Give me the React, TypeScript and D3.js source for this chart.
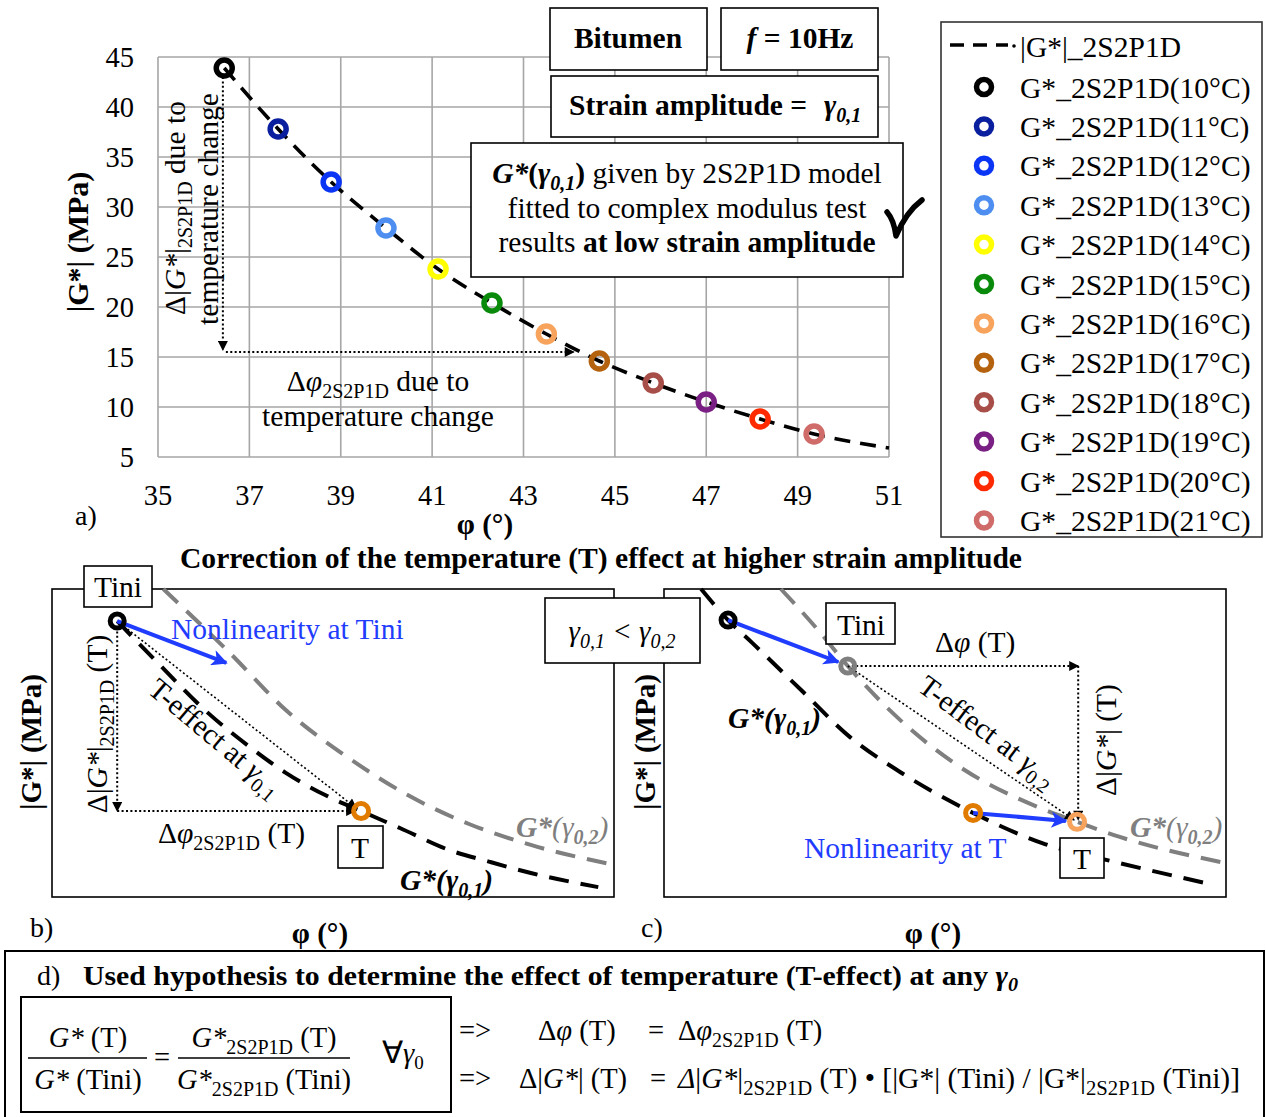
import React from "react";
import * as d3 from "d3";

const SERIF = "'Liberation Serif','Times New Roman',serif";

// ---------- Panel a data ----------
const temperatures = [10, 11, 12, 13, 14, 15, 16, 17, 18, 19, 20, 21];
const phaseDeg = [36.45, 37.63, 38.79, 39.99, 41.13, 42.31, 43.5, 44.66, 45.84, 47.0, 48.18, 49.36];
const modulusMPa = [43.9, 37.8, 32.5, 27.9, 23.8, 20.4, 17.3, 14.6, 12.4, 10.5, 8.8, 7.3];
const pointColors = [
  "#000000", "#0a1f9e", "#0a35f5", "#4d8ef0", "#ffff00", "#0a8a0a",
  "#f8a35c", "#b5620f", "#a84e48", "#7a1f84", "#ff2a00", "#cf6b68",
];
const modelEndPhase = [51];
const modelEndModulus = [5.9];
const xTicks = [35, 37, 39, 41, 43, 45, 47, 49, 51];
const yTicks = [5, 10, 15, 20, 25, 30, 35, 40, 45];
const deltaArrowPhase = [36.42, 44.1];
const deltaArrowModulus = [43.0, 15.5];

// ---------- Panel b schematic data (arbitrary units 0-100) ----------
const bBlackX = [11.6, 19.2, 27.8, 35.2, 41.6, 48.6, 55.0, 61.9, 70.6, 77.9, 85.2, 97.2];
const bBlackY = [89.6, 75.3, 59.7, 48.7, 40.3, 33.1, 27.9, 22.4, 15.3, 11.4, 7.8, 3.2];
const bGrayX = [19.8, 31.5, 41.6, 52.5, 63.3, 74.2, 85.2, 99.3];
const bGrayY = [100, 79.5, 60.7, 45.5, 33.1, 23.7, 16.9, 10.7];
const bTini = [11.6, 89.6];
const bT = [55.0, 27.9];
const bNonlinTip = [31.0, 76.0];

// ---------- Panel c schematic data ----------
const cBlackX = [6.6, 11.4, 15.7, 24.4, 33.1, 42.0, 55.0, 67.3, 81.1, 97.9];
const cBlackY = [100, 89.9, 82.5, 67.2, 51.9, 40.6, 27.3, 17.5, 11.0, 3.9];
const cGrayX = [20.8, 27.4, 32.7, 42.0, 52.1, 66.5, 73.5, 81.1, 100];
const cGrayY = [100, 86.7, 75.0, 57.5, 42.9, 29.2, 24.4, 19.5, 11.0];
const cTiniLow = [11.4, 89.9];
const cTiniHigh = [32.7, 75.0];
const cTLow = [55.0, 27.3];
const cTHigh = [73.5, 24.4];
const cNonlinTip1 = [31.0, 76.3];
const cNonlinTip2 = [71.5, 24.7];
const cCorner = [73.7, 75.0];

const BLUE = "#1f3cff";
const GRAY = "#7f7f7f";
const ORANGE = "#e07b00";
const LORANGE = "#f7a35c";

const FS = 29.5; // main text size
const SUB = 20; // subscript size

function Sub({ children, size = SUB, shift = 7 }: { children: React.ReactNode; size?: number; shift?: number }) {
  return (
    <tspan fontSize={size} dy={shift}>
      {children}
    </tspan>
  );
}

export default function App() {
  const x = d3.scaleLinear().domain([35, 51]).range([158, 889]);
  const y = d3.scaleLinear().domain([5, 45]).range([457, 57]);
  const modelPts: [number, number][] = phaseDeg
    .map((p, i) => [p, modulusMPa[i]] as [number, number])
    .concat(modelEndPhase.map((p, i) => [p, modelEndModulus[i]] as [number, number]));
  const modelLine = d3
    .line<[number, number]>()
    .x((d) => x(d[0]))
    .y((d) => y(d[1]))
    .curve(d3.curveMonotoneX);

  const bx = d3.scaleLinear().domain([0, 100]).range([52, 614]);
  const cx = d3.scaleLinear().domain([0, 100]).range([664, 1226]);
  const sy = d3.scaleLinear().domain([0, 100]).range([897, 589]);
  const mkLine = (sx: d3.ScaleLinear<number, number>) =>
    d3
      .line<[number, number]>()
      .x((d) => sx(d[0]))
      .y((d) => sy(d[1]))
      .curve(d3.curveMonotoneX);
  const zip = (a: number[], b: number[]) => a.map((v, i) => [v, b[i]] as [number, number]);
  const bLine = mkLine(bx);
  const cLine = mkLine(cx);

  const dotted = { stroke: "#000", strokeWidth: 2, strokeDasharray: "2 2.4", fill: "none" };
  const legendRowY = (i: number) => 87 + i * 39.4;

  return (
    <svg
      width={1266}
      height={1117}
      style={{ position: "absolute", left: 0, top: 0, display: "block", background: "#fff" }}
      fontFamily={SERIF}
    >
      <defs>
        <marker id="blueHead" viewBox="0 0 10 10" refX="9" refY="5" markerWidth="22" markerHeight="16" markerUnits="userSpaceOnUse" orient="auto">
          <path d="M0,0 L10,5 L0,10 L2.5,5 z" fill={BLUE} />
        </marker>
        <marker id="blackHead" viewBox="0 0 10 10" refX="9" refY="5" markerWidth="13" markerHeight="10" markerUnits="userSpaceOnUse" orient="auto">
          <path d="M0,0 L10,5 L0,10 z" fill="#000" />
        </marker>
      </defs>
      <rect x={0} y={0} width={1266} height={1117} fill="#fff" />

      {/* ===== Panel a ===== */}
      <g>
        {xTicks.map((t) => (
          <line key={"gx" + t} x1={x(t)} x2={x(t)} y1={y(45)} y2={y(5)} stroke="#a6a6a6" strokeWidth={1.6} />
        ))}
        {yTicks.map((t) => (
          <line key={"gy" + t} x1={x(35)} x2={x(51)} y1={y(t)} y2={y(t)} stroke="#a6a6a6" strokeWidth={1.6} />
        ))}
        {xTicks.map((t) => (
          <text key={"tx" + t} x={x(t)} y={505} fontSize={28.5} textAnchor="middle">
            {t}
          </text>
        ))}
        {yTicks.map((t) => (
          <text key={"ty" + t} x={134} y={y(t) + 10} fontSize={28.5} textAnchor="end">
            {t}
          </text>
        ))}
        <text transform="translate(88,242) rotate(-90)" fontSize={30} fontWeight="bold" textAnchor="middle">
          |G*| (MPa)
        </text>
        <text x={485} y={534} fontSize={29} fontWeight="bold" textAnchor="middle">
          φ (°)
        </text>
        <text x={75} y={525} fontSize={28}>
          a)
        </text>

        {/* annotation arrows */}
        <line x1={x(deltaArrowPhase[0])} x2={x(deltaArrowPhase[0])} y1={y(deltaArrowModulus[0])} y2={y(deltaArrowModulus[1]) - 2} style={dotted} markerEnd="url(#blackHead)" />
        <line x1={x(deltaArrowPhase[0]) + 3} x2={x(deltaArrowPhase[1])} y1={y(deltaArrowModulus[1])} y2={y(deltaArrowModulus[1])} style={dotted} markerEnd="url(#blackHead)" />

        <path d={modelLine(modelPts) || ""} fill="none" stroke="#000" strokeWidth={3.6} strokeDasharray="16 10" />
        {phaseDeg.map((p, i) => (
          <circle key={"pt" + temperatures[i]} cx={x(p)} cy={y(modulusMPa[i])} r={8} fill="none" stroke={pointColors[i]} strokeWidth={5.5} />
        ))}

        <g transform="translate(175,208) rotate(-90)">
          <text textAnchor="middle" dy="0.35em" fontSize={FS}>
            Δ|<tspan fontStyle="italic">G*</tspan>|<Sub>2S2P1D</Sub>
            <tspan dy={-7}> due to</tspan>
          </text>
        </g>
        <g transform="translate(208,209) rotate(-90)">
          <text textAnchor="middle" dy="0.35em" fontSize={FS}>
            temperature change
          </text>
        </g>
        <text x={378} y={391} fontSize={FS} textAnchor="middle">
          Δ<tspan fontStyle="italic">φ</tspan>
          <Sub>2S2P1D</Sub>
          <tspan dy={-7}> due to</tspan>
        </text>
        <text x={378} y={426} fontSize={FS} textAnchor="middle">
          temperature change
        </text>

        {/* info boxes */}
        <rect x={550} y={8} width={157} height={62} fill="#fff" stroke="#000" strokeWidth={1.6} />
        <text x={628} y={48} fontSize={29.5} fontWeight="bold" textAnchor="middle">
          Bitumen
        </text>
        <rect x={721} y={8} width={157} height={62} fill="#fff" stroke="#000" strokeWidth={1.6} />
        <text x={800} y={48} fontSize={29.5} fontWeight="bold" textAnchor="middle">
          <tspan fontStyle="italic">f</tspan> = 10Hz
        </text>
        <rect x={551} y={76} width={327} height={61} fill="#fff" stroke="#000" strokeWidth={1.6} />
        <text x={569} y={115} fontSize={29.5} fontWeight="bold">
          Strain amplitude =
        </text>
        <text x={824} y={115} fontSize={29.5} fontWeight="bold" fontStyle="italic">
          γ<tspan fontSize={20} dy={7}>0,1</tspan>
        </text>
        <rect x={471} y={143} width={432} height={134} fill="#fff" stroke="#000" strokeWidth={1.6} />
        <text x={687} y={183} fontSize={FS} textAnchor="middle">
          <tspan fontWeight="bold" fontStyle="italic">G*</tspan>
          <tspan fontWeight="bold">(</tspan>
          <tspan fontStyle="italic" fontWeight="bold">γ</tspan>
          <tspan fontStyle="italic" fontWeight="bold" fontSize={SUB} dy={7}>0,1</tspan>
          <tspan fontWeight="bold" dy={-7}>)</tspan> given by 2S2P1D model
        </text>
        <text x={687} y={218} fontSize={FS} textAnchor="middle">
          fitted to complex modulus test
        </text>
        <text x={687} y={252} fontSize={FS} textAnchor="middle">
          results <tspan fontWeight="bold">at low strain amplitude</tspan>
        </text>
        <path d="M887,212 Q894,220 896,236 Q906,212 922,200" fill="none" stroke="#000" strokeWidth={5.5} strokeLinecap="round" strokeLinejoin="round" />

        {/* legend */}
        <rect x={941} y={22} width={321} height={515} fill="#fff" stroke="#333" strokeWidth={1.6} />
        <line x1={950} x2={1008} y1={45} y2={45} stroke="#000" strokeWidth={3.6} strokeDasharray="14 9" />
        <circle cx={1014} cy={46} r={1.8} fill="#000" />
        <text x={1020} y={57} fontSize={FS}>
          |G*|_2S2P1D
        </text>
        {temperatures.map((t, i) => (
          <g key={"lg" + t}>
            <circle cx={984} cy={legendRowY(i)} r={7.5} fill="none" stroke={pointColors[i]} strokeWidth={5.5} />
            <text x={1020} y={legendRowY(i) + 10.5} fontSize={29.6}>
              G*_2S2P1D({t}°C)
            </text>
          </g>
        ))}
      </g>

      {/* ===== Title for b/c ===== */}
      <text x={601} y={568} fontSize={28.5} fontWeight="bold" textAnchor="middle" textLength={842} lengthAdjust="spacingAndGlyphs">
        Correction of the temperature (T) effect at higher strain amplitude
      </text>

      {/* ===== Panel b ===== */}
      <g>
        <rect x={52} y={589} width={562} height={308} fill="none" stroke="#000" strokeWidth={1.6} />
        <path d={bLine(zip(bGrayX, bGrayY)) || ""} fill="none" stroke={GRAY} strokeWidth={4} strokeDasharray="20 12" />
        <path d={bLine(zip(bBlackX, bBlackY)) || ""} fill="none" stroke="#000" strokeWidth={4} strokeDasharray="20 12" />
        <line x1={bx(bTini[0])} x2={bx(bTini[0])} y1={sy(bTini[1]) + 6} y2={sy(bT[1])} style={dotted} markerEnd="url(#blackHead)" />
        <line x1={bx(bTini[0])} x2={bx(bT[0]) - 6} y1={sy(bT[1])} y2={sy(bT[1])} style={dotted} markerEnd="url(#blackHead)" />
        <line x1={bx(bTini[0])} x2={bx(bT[0]) - 5} y1={sy(bTini[1])} y2={sy(bT[1]) - 3} style={{ ...dotted, strokeWidth: 1.6 }} markerEnd="url(#blackHead)" />
        <line x1={bx(bTini[0])} x2={bx(bNonlinTip[0])} y1={sy(bTini[1])} y2={sy(bNonlinTip[1])} stroke={BLUE} strokeWidth={4} markerEnd="url(#blueHead)" />
        <circle cx={bx(bTini[0])} cy={sy(bTini[1])} r={7} fill="none" stroke="#000" strokeWidth={5} />
        <circle cx={bx(bT[0])} cy={sy(bT[1])} r={7.5} fill="none" stroke={ORANGE} strokeWidth={5} />

        <rect x={84} y={566} width={68} height={41} fill="#fff" stroke="#000" strokeWidth={1.6} />
        <text x={118} y={597} fontSize={FS} textAnchor="middle">
          Tini
        </text>
        <rect x={338} y={826} width={45} height={42} fill="#fff" stroke="#000" strokeWidth={1.6} />
        <text x={360} y={858} fontSize={FS} textAnchor="middle">
          T
        </text>
        <text x={171} y={639} fontSize={FS} fill={BLUE}>
          Nonlinearity at Tini
        </text>
        <g transform="translate(97,724) rotate(-90)">
          <text textAnchor="middle" dy="0.35em" fontSize={FS}>
            Δ|<tspan fontStyle="italic">G*</tspan>|<Sub>2S2P1D</Sub>
            <tspan dy={-7}> (T)</tspan>
          </text>
        </g>
        <text x={158} y={843} fontSize={FS}>
          Δ<tspan fontStyle="italic">φ</tspan>
          <Sub>2S2P1D</Sub>
          <tspan dy={-7}> (T)</tspan>
        </text>
        <g transform="translate(216,737) rotate(40)">
          <text textAnchor="middle" dy="0.35em" fontSize={FS}>
            T-effect at <tspan fontStyle="italic">γ</tspan>
            <Sub>0,1</Sub>
          </text>
        </g>
        <text x={516} y={837} fontSize={FS} fill={GRAY} fontWeight="bold" fontStyle="italic">
          G*<tspan fontWeight="normal">(γ</tspan>
          <Sub>0,2</Sub>
          <tspan fontWeight="normal" dy={-7}>)</tspan>
        </text>
        <text x={400} y={890} fontSize={FS} fontWeight="bold" fontStyle="italic">
          G*(γ<Sub>0,1</Sub>
          <tspan dy={-7}>)</tspan>
        </text>
        <text transform="translate(41,742) rotate(-90)" fontSize={29} fontWeight="bold" textAnchor="middle">
          |G*| (MPa)
        </text>
        <text x={320} y={943} fontSize={29} fontWeight="bold" textAnchor="middle">
          φ (°)
        </text>
        <text x={30} y={937} fontSize={28}>
          b)
        </text>
      </g>

      {/* ===== Panel c ===== */}
      <g>
        <rect x={664} y={589} width={562} height={308} fill="none" stroke="#000" strokeWidth={1.6} />
        <path d={cLine(zip(cGrayX, cGrayY)) || ""} fill="none" stroke={GRAY} strokeWidth={4} strokeDasharray="20 12" />
        <path d={cLine(zip(cBlackX, cBlackY)) || ""} fill="none" stroke="#000" strokeWidth={4} strokeDasharray="20 12" />
        <line x1={cx(cTiniHigh[0]) + 4} x2={cx(cCorner[0])} y1={sy(cTiniHigh[1])} y2={sy(cCorner[1])} style={dotted} markerEnd="url(#blackHead)" />
        <line x1={cx(cCorner[0])} x2={cx(cCorner[0])} y1={sy(cCorner[1])} y2={sy(cTHigh[1]) - 2} style={dotted} markerEnd="url(#blackHead)" />
        <line x1={cx(cTiniHigh[0])} x2={cx(cTHigh[0]) - 3} y1={sy(cTiniHigh[1])} y2={sy(cTHigh[1]) - 2} style={{ ...dotted, strokeWidth: 1.6 }} markerEnd="url(#blackHead)" />
        <line x1={cx(cTiniLow[0])} x2={cx(cNonlinTip1[0])} y1={sy(cTiniLow[1])} y2={sy(cNonlinTip1[1])} stroke={BLUE} strokeWidth={4} markerEnd="url(#blueHead)" />
        <line x1={cx(cTLow[0])} x2={cx(cNonlinTip2[0])} y1={sy(cTLow[1])} y2={sy(cNonlinTip2[1])} stroke={BLUE} strokeWidth={4} markerEnd="url(#blueHead)" />
        <circle cx={cx(cTiniLow[0])} cy={sy(cTiniLow[1])} r={7} fill="none" stroke="#000" strokeWidth={5} />
        <circle cx={cx(cTiniHigh[0])} cy={sy(cTiniHigh[1])} r={7} fill="none" stroke={GRAY} strokeWidth={5} />
        <circle cx={cx(cTLow[0])} cy={sy(cTLow[1])} r={7.5} fill="none" stroke={ORANGE} strokeWidth={5} />
        <circle cx={cx(cTHigh[0])} cy={sy(cTHigh[1])} r={7.5} fill="none" stroke={LORANGE} strokeWidth={5} />

        <rect x={826} y={603} width={69} height={41} fill="#fff" stroke="#000" strokeWidth={1.6} />
        <text x={861} y={635} fontSize={FS} textAnchor="middle">
          Tini
        </text>
        <rect x={1060} y={838} width={44} height={40} fill="#fff" stroke="#000" strokeWidth={1.6} />
        <text x={1082} y={869} fontSize={FS} textAnchor="middle">
          T
        </text>
        <text x={935} y={652} fontSize={FS}>
          Δ<tspan fontStyle="italic">φ</tspan> (T)
        </text>
        <g transform="translate(1106,740) rotate(-90)">
          <text textAnchor="middle" dy="0.35em" fontSize={FS}>
            Δ|<tspan fontStyle="italic">G*</tspan>| (T)
          </text>
        </g>
        <g transform="translate(988,731) rotate(37)">
          <text textAnchor="middle" dy="0.35em" fontSize={FS}>
            T-effect at <tspan fontStyle="italic">γ</tspan>
            <Sub>0,2</Sub>
          </text>
        </g>
        <text x={804} y={858} fontSize={FS} fill={BLUE}>
          Nonlinearity at T
        </text>
        <text x={728} y={728} fontSize={FS} fontWeight="bold" fontStyle="italic">
          G*(γ<Sub>0,1</Sub>
          <tspan dy={-7}>)</tspan>
        </text>
        <text x={1130} y={837} fontSize={FS} fill={GRAY} fontWeight="bold" fontStyle="italic">
          G*<tspan fontWeight="normal">(γ</tspan>
          <Sub>0,2</Sub>
          <tspan fontWeight="normal" dy={-7}>)</tspan>
        </text>
        <text transform="translate(655,742) rotate(-90)" fontSize={29} fontWeight="bold" textAnchor="middle">
          |G*| (MPa)
        </text>
        <text x={933} y={943} fontSize={29} fontWeight="bold" textAnchor="middle">
          φ (°)
        </text>
        <text x={641} y={937} fontSize={28}>
          c)
        </text>
      </g>

      {/* gamma comparison box */}
      <rect x={545} y={598} width={155} height={65} fill="#fff" stroke="#000" strokeWidth={1.6} />
      <text x={622} y={641} fontSize={29} textAnchor="middle" fontStyle="italic">
        γ<Sub size={20}>0,1</Sub>
        <tspan dy={-7}> &lt; γ</tspan>
        <Sub size={20}>0,2</Sub>
      </text>

      {/* ===== Panel d ===== */}
      <g>
        <rect x={5} y={951} width={1259} height={175} fill="none" stroke="#000" strokeWidth={2} />
        <text x={37} y={985} fontSize={28}>
          d)
        </text>
        <text x={83} y={985} fontSize={28} fontWeight="bold" textLength={935} lengthAdjust="spacingAndGlyphs">
          Used hypothesis to determine the effect of temperature (T-effect) at any <tspan fontStyle="italic">γ</tspan>
          <tspan fontStyle="italic" fontSize={19} dy={6}>0</tspan>
        </text>
        <rect x={21} y={997} width={430} height={115} fill="none" stroke="#000" strokeWidth={2} />
        <text x={88} y={1047} fontSize={28.5} textAnchor="middle">
          <tspan fontStyle="italic">G*</tspan> (T)
        </text>
        <line x1={28} x2={147} y1={1058} y2={1058} stroke="#000" strokeWidth={1.5} />
        <text x={88} y={1089} fontSize={28.5} textAnchor="middle">
          <tspan fontStyle="italic">G*</tspan> (Tini)
        </text>
        <text x={162} y={1067} fontSize={28.5} textAnchor="middle">
          =
        </text>
        <text x={264} y={1047} fontSize={28.5} textAnchor="middle">
          <tspan fontStyle="italic">G*</tspan>
          <Sub>2S2P1D</Sub>
          <tspan dy={-7}> (T)</tspan>
        </text>
        <line x1={178} x2={350} y1={1058} y2={1058} stroke="#000" strokeWidth={1.5} />
        <text x={264} y={1089} fontSize={28.5} textAnchor="middle">
          <tspan fontStyle="italic">G*</tspan>
          <Sub>2S2P1D</Sub>
          <tspan dy={-7}> (Tini)</tspan>
        </text>
        <text x={382} y={1063} fontSize={31}>
          ∀<tspan fontStyle="italic" fontSize={28.5}>γ</tspan>
          <tspan fontSize={19} dy={6}>0</tspan>
        </text>

        <text x={459} y={1040} fontSize={28.5}>
          =&gt;
        </text>
        <text x={538} y={1040} fontSize={28.5}>
          Δ<tspan fontStyle="italic">φ</tspan> (T)
        </text>
        <text x={648} y={1040} fontSize={28.5}>
          =
        </text>
        <text x={678} y={1040} fontSize={28.5}>
          Δ<tspan fontStyle="italic">φ</tspan>
          <Sub>2S2P1D</Sub>
          <tspan dy={-7}> (T)</tspan>
        </text>
        <text x={459} y={1088} fontSize={28.5}>
          =&gt;
        </text>
        <text x={519} y={1088} fontSize={28.5}>
          Δ|<tspan fontStyle="italic">G*</tspan>| (T)
        </text>
        <text x={650} y={1088} fontSize={28.5}>
          =
        </text>
        <text x={678} y={1088} fontSize={28.5} textLength={562} lengthAdjust="spacingAndGlyphs">
          <tspan fontStyle="italic">Δ</tspan>|<tspan fontStyle="italic">G*</tspan>|<Sub>2S2P1D</Sub>
          <tspan dy={-7}> (T) • [|G*| (Tini) / |G*|</tspan>
          <Sub>2S2P1D</Sub>
          <tspan dy={-7}> (Tini)]</tspan>
        </text>
      </g>
    </svg>
  );
}
